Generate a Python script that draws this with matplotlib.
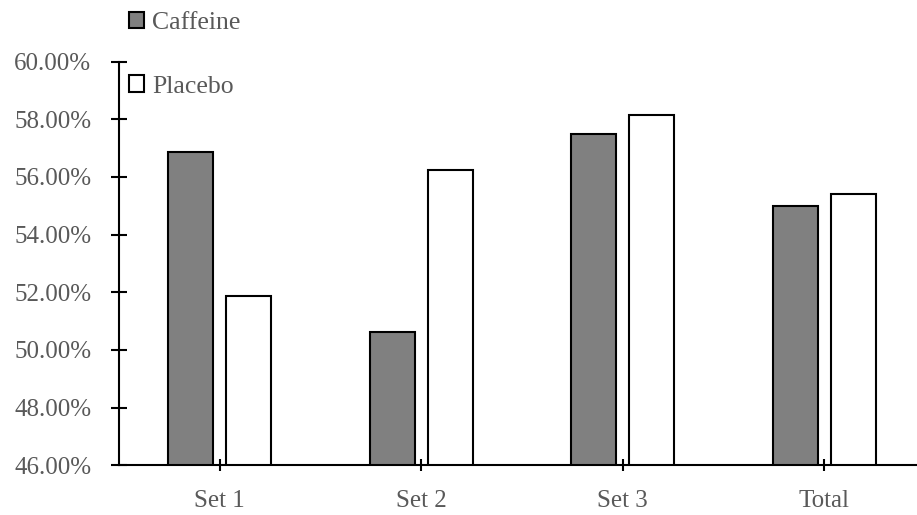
import matplotlib
matplotlib.use("Agg")
import matplotlib.pyplot as plt
import numpy as np
from matplotlib.ticker import FuncFormatter, MultipleLocator
from matplotlib.patches import Patch

categories = ["Set 1", "Set 2", "Set 3", "Total"]
caffeine = [56.87, 50.61, 57.50, 54.99]
placebo = [51.87, 56.25, 58.13, 55.42]
series_names = ["Caffeine", "Placebo"]

plt.rcParams['font.family'] = ['Liberation Serif', 'DejaVu Serif']
text_color = "#595959"

fig = plt.figure(figsize=(9.17, 5.15), dpi=100)
ax = fig.add_axes([119/917, 49.7/515, 806/917, 403.8/515])

x = np.arange(len(categories))
w = 0.223
off = 0.144
ax.bar(x - off, caffeine, width=w, bottom=0, color="#808080", edgecolor="black", linewidth=1.5, label=series_names[0])
ax.bar(x + off, placebo, width=w, bottom=0, color="white", edgecolor="black", linewidth=1.5, label=series_names[1])

ax.set_ylim(46, 60)
ax.set_xlim(-0.5, 3.5)
ax.yaxis.set_major_locator(MultipleLocator(2))
ax.yaxis.set_major_formatter(FuncFormatter(lambda v, p: f"{v:.2f}%"))
ax.set_xticks(x)
ax.set_xticklabels(categories)

for s in ["top", "right"]:
    ax.spines[s].set_visible(False)
for s in ["left", "bottom"]:
    ax.spines[s].set_linewidth(1.5)
    ax.spines[s].set_color("black")

ax.tick_params(axis="y", direction="inout", length=12, width=1.5, labelsize=18, labelcolor=text_color, pad=14)
ax.tick_params(axis="x", direction="inout", length=9, width=1.5, labelsize=18, labelcolor=text_color, pad=13.5)

handles = [Patch(facecolor="#808080", edgecolor="black", linewidth=1.5),
           Patch(facecolor="white", edgecolor="black", linewidth=1.5)]
leg = fig.legend(handles, series_names, loc="upper left", bbox_to_anchor=(129/917, 1 - 12/515),
                 frameon=False, fontsize=18.5, handlelength=0.6, handleheight=0.6,
                 handletextpad=0.3, labelspacing=1.6, borderaxespad=0, borderpad=0)
for t in leg.get_texts():
    t.set_color(text_color)

fig.savefig("out.png", dpi=100)
